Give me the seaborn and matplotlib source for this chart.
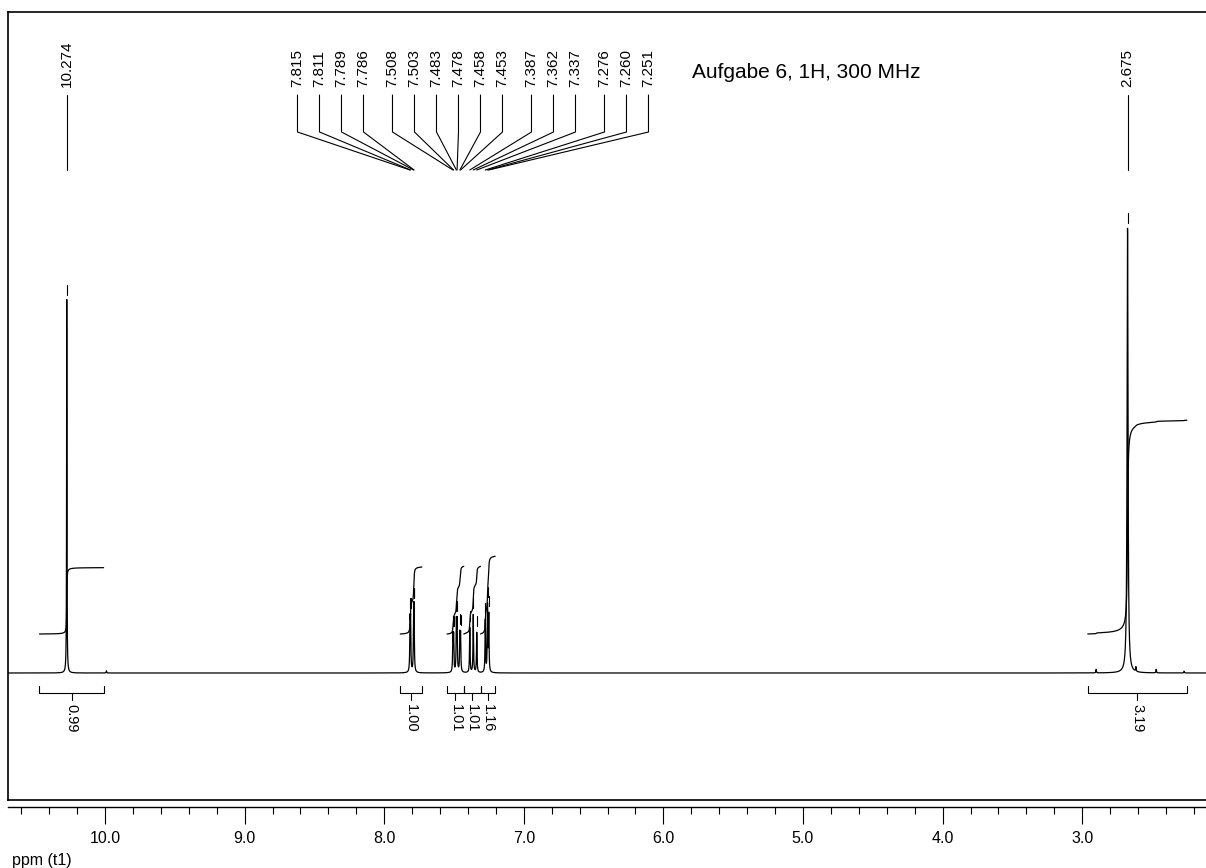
import numpy as np
import matplotlib
matplotlib.use("Agg")
import matplotlib.pyplot as plt
from matplotlib.ticker import FixedLocator, MultipleLocator
import seaborn as sns

# ---------------- data ----------------
peak_ppm = [10.274, 7.815, 7.811, 7.789, 7.786, 7.508, 7.503, 7.483, 7.478,
            7.458, 7.453, 7.387, 7.362, 7.337, 7.276, 7.260, 7.251, 2.675]
peak_height = [84.3, 10.5, 10.5, 11.3, 11.3, 7.7, 7.7, 10.6, 10.6,
               8.0, 8.0, 10.1, 13.0, 9.0, 11.7, 14.8, 12.7, 100.0]
peak_fwhm = [0.0030, 0.0045, 0.0045, 0.0045, 0.0045, 0.0045, 0.0045, 0.0045, 0.0045,
             0.0045, 0.0045, 0.0045, 0.0045, 0.0045, 0.0045, 0.0045, 0.0045, 0.0080]

minor_ppm = [9.990, 2.900, 2.615, 2.470, 2.270]
minor_height = [0.5, 0.8, 1.0, 0.8, 0.4]
minor_fwhm = [0.004, 0.004, 0.004, 0.004, 0.004]

single_labels = ["10.274", "2.675"]
multiplet_labels = ["7.815", "7.811", "7.789", "7.786",
                    "7.508", "7.503", "7.483", "7.478", "7.458", "7.453",
                    "7.387", "7.362", "7.337",
                    "7.276", "7.260", "7.251"]
multiplet_group_sizes = [4, 6, 3, 3]

integral_from = [10.470, 7.885, 7.550, 7.430, 7.310, 2.960]
integral_to = [10.010, 7.730, 7.430, 7.310, 7.205, 2.250]
integral_value = [0.99, 1.00, 1.01, 1.01, 1.16, 3.19]

major_ticks = [10.0, 9.0, 8.0, 7.0, 6.0, 5.0, 4.0, 3.0]
tick_labels = ["10.0", "9.0", "8.0", "7.0", "6.0", "5.0", "4.0", "3.0"]
title_text = "Aufgabe 6, 1H, 300 MHz"
axis_label = "ppm (t1)"

# ---------------- layout / style ----------------
W, H = 1206, 868
XMAX, XMIN = 10.695, 2.113
Y_LOW, Y_HIGH = -28.54, 148.54
FRAME_L, FRAME_T, FRAME_B = 8, 12, 800
PX_PER_UNIT = (FRAME_B - FRAME_T) / (Y_HIGH - Y_LOW)

sns.set_style("white")
plt.rcParams["font.family"] = ["Liberation Sans", "DejaVu Sans"]
plt.rcParams["text.color"] = "black"
plt.rcParams["xtick.color"] = "black"
plt.rcParams["xtick.labelcolor"] = "black"

fig = plt.figure(figsize=(W / 100, H / 100), dpi=100)
ax = fig.add_axes([FRAME_L / W, (H - FRAME_B) / H, (W - FRAME_L) / W, (FRAME_B - FRAME_T) / H])
ax.set_xlim(XMAX, XMIN)
ax.set_ylim(Y_LOW, Y_HIGH)
ax.set_xticks([])
ax.set_yticks([])
for s in ["left", "top", "bottom"]:
    ax.spines[s].set_color("black")
    ax.spines[s].set_linewidth(1.2)
ax.spines["right"].set_visible(False)


def yfrac(ypx):
    return (FRAME_B - ypx) / (FRAME_B - FRAME_T)


def ydata(ypx):
    return Y_LOW + yfrac(ypx) * (Y_HIGH - Y_LOW)


# spectrum built from the picked lines (Lorentzian line shapes)
ppm = np.arange(XMAX, XMIN, -0.0003)
spec = np.zeros_like(ppm)
for p, h, w in zip(peak_ppm + minor_ppm, peak_height + minor_height, peak_fwhm + minor_fwhm):
    spec += h / (1.0 + ((ppm - p) / (w / 2.0)) ** 2)

sns.lineplot(x=ppm, y=spec, ax=ax, color="black", lw=0.9, estimator=None,
             sort=False, errorbar=None)

# peak markers just above each picked line
for p in peak_ppm:
    ytip = np.interp(p, ppm[::-1], spec[::-1])
    ax.plot([p, p], [ytip + 6 / PX_PER_UNIT, ytip + 16 / PX_PER_UNIT], color="black", lw=0.8)

# integral curves
INT_OFFSET = ydata(634)
INT_UNIT = (634 - 567) / PX_PER_UNIT
for a, b, v in zip(integral_from, integral_to, integral_value):
    m = (ppm <= a) & (ppm >= b)
    xs = ppm[m]
    cum = np.cumsum(spec[m])
    cum = (cum - cum[0]) / (cum[-1] - cum[0])
    sns.lineplot(x=xs, y=INT_OFFSET + cum * v * INT_UNIT, ax=ax, color="black",
                 lw=0.9, estimator=None, sort=False, errorbar=None)

# integral brackets + values
yb, yb_up, yb_dn, ylab = ydata(693), ydata(686), ydata(700), ydata(704)
for a, b, v in zip(integral_from, integral_to, integral_value):
    ax.plot([a, a, b, b], [yb_up, yb, yb, yb_up], color="black", lw=0.8)
    c = (a + b) / 2
    ax.plot([c, c], [yb, yb_dn], color="black", lw=0.8)
    ax.text(c, ylab, f"{v:.2f}", rotation=270, ha="center", va="top", fontsize=10.5)

# peak labels
trans = ax.get_xaxis_transform()
for lab in single_labels:
    p = float(lab)
    ax.text(p, yfrac(87), lab, rotation=90, ha="center", va="bottom", transform=trans, fontsize=11)
    ax.plot([p, p], [yfrac(95), yfrac(170)], transform=trans, color="black", lw=0.8)

ppm_per_px = (XMAX - XMIN) / (W - FRAME_L)
offs = []
x = 0.0
for n in multiplet_group_sizes:
    for k in range(n):
        offs.append(x)
        x += 22
    x += 7
offs = np.array(offs)
offs -= (offs[0] + offs[-1]) / 2
LABEL_CENTER = 7.364
for lab, o in zip(multiplet_labels, offs):
    lx = LABEL_CENTER - o * ppm_per_px
    p = float(lab)
    ax.text(lx, yfrac(87), lab, rotation=90, ha="center", va="bottom", transform=trans, fontsize=11)
    ax.plot([lx, lx, p], [yfrac(95), yfrac(132), yfrac(170)], transform=trans,
            color="black", lw=0.8)

ax.text((692 - FRAME_L) / (W - FRAME_L), yfrac(72), title_text, transform=ax.transAxes,
        ha="left", va="center", fontsize=15)

# ppm ruler below the frame
ax2 = fig.add_axes([FRAME_L / W, (H - 807) / H, (W - FRAME_L) / W, 0.0005])
ax2.set_xlim(XMAX, XMIN)
ax2.set_yticks([])
for s in ["left", "right", "top"]:
    ax2.spines[s].set_visible(False)
ax2.spines["bottom"].set_color("black")
ax2.spines["bottom"].set_linewidth(1.0)
ax2.xaxis.set_major_locator(FixedLocator(major_ticks))
ax2.set_xticklabels(tick_labels, fontsize=11.5)
ax2.xaxis.set_minor_locator(MultipleLocator(0.2))
ax2.tick_params(axis="x", which="major", direction="out", length=12.2, width=0.8,
                color="black", pad=5, bottom=True)
ax2.tick_params(axis="x", which="minor", direction="out", length=5, width=0.8,
                color="black", bottom=True)
ax2.patch.set_visible(False)

fig.text(12 / W, 1 - 860 / H, axis_label, ha="left", va="center", fontsize=11.5)

fig.savefig("out.png", dpi=100)
